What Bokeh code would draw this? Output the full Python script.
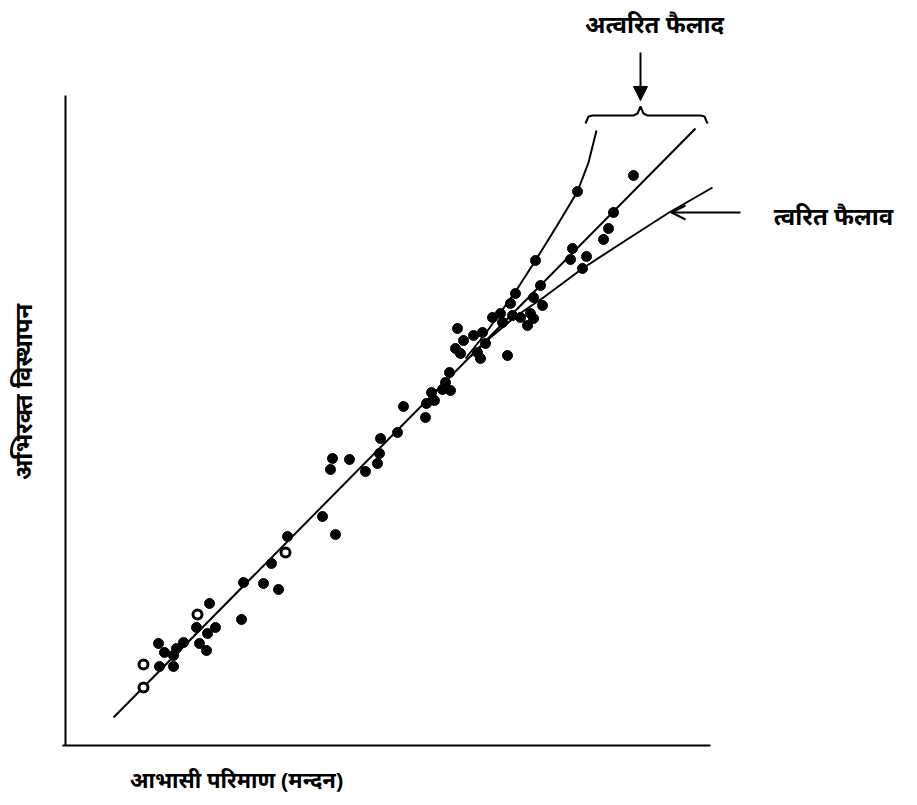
from math import pi
from bokeh.plotting import figure
from bokeh.models import Range1d, Label, Arrow, NormalHead, OpenHead, LinearAxis
from bokeh.embed import file_html
from bokeh.resources import INLINE

# ---- data (arbitrary units: apparent magnitude vs redshift) ----
mag_dots = [93, 94, 99, 108, 108, 111, 118, 131, 134, 141, 142, 144, 150, 176, 178, 198,
            213, 206, 222, 257, 270, 267, 265, 284, 300, 312, 314, 315, 332, 338, 360, 361,
            366, 369, 377, 385, 380, 384, 390, 392, 395, 398, 408, 412, 415, 417, 420, 427,
            435, 437, 442, 445, 447, 455, 462, 465, 468, 477, 475, 468, 450, 470, 512, 568,
            548, 543, 538, 507, 505, 521, 517]
red_dots = [102, 79, 93, 79, 90, 97, 103, 118, 102, 95, 112, 142, 118, 126, 163, 162,
            156, 182, 209, 229, 211, 287, 276, 286, 274, 282, 292, 307, 313, 339, 328, 342,
            353, 345, 356, 355, 363, 373, 397, 417, 392, 405, 410, 393, 387, 413, 402, 428,
            432, 423, 390, 442, 430, 428, 420, 432, 427, 440, 460, 448, 452, 485, 554, 570,
            533, 517, 506, 497, 486, 489, 477]
mag_rings = [78, 78, 132, 220]
red_rings = [58, 81, 131, 193]

# fitted relations
main_mag = [48, 630]
main_red = [28, 617]
decel_mag = [400, 420, 435, 452, 470, 491, 512, 523, 531]
decel_red = [387, 412, 433, 457, 485, 519, 554, 583, 615]
accel_mag = [405, 425, 450, 478, 517, 560, 602, 647]
accel_red = [389, 408, 429, 448, 477, 505, 532, 558]

# brace outline over the upper ends of the curves
brace_x = [520, 523, 527, 568, 572, 575, 578, 582, 635, 639, 642]
brace_y = [622, 629, 630, 630, 632, 639, 632, 630, 630, 629, 622]

FONT = "Noto Sans"

p = figure(width=909, height=797, output_backend="svg", toolbar_location=None,
           x_range=Range1d(-65, 844), y_range=Range1d(-52, 745),
           x_axis_type=None, y_axis_type=None,
           min_border=0)
p.background_fill_color = "white"
p.border_fill_color = "white"
p.outline_line_color = None
p.grid.visible = False

xaxis = LinearAxis(fixed_location=0, bounds=(-3, 645))
yaxis = LinearAxis(fixed_location=0, bounds=(0, 650))
for ax in (xaxis, yaxis):
    ax.ticker = []
    ax.axis_line_width = 2
    ax.axis_line_color = "black"
    ax.major_tick_out = 0
    ax.major_tick_in = 0
    ax.minor_tick_out = 0
    ax.minor_tick_in = 0
    ax.major_label_standoff = 0
    ax.major_label_text_font_size = "0px"
p.add_layout(xaxis, "below")
p.add_layout(yaxis, "left")

p.line(main_mag, main_red, line_color="black", line_width=2)
p.line(decel_mag, decel_red, line_color="black", line_width=2)
p.line(accel_mag, accel_red, line_color="black", line_width=2)
p.line(brace_x, brace_y, line_color="black", line_width=2)

p.scatter(mag_dots, red_dots, size=10, marker="circle", fill_color="black", line_color="black")
p.scatter(mag_rings, red_rings, size=9, marker="circle", fill_color="white", line_color="black",
          line_width=3)

# arrows
p.add_layout(Arrow(end=NormalHead(size=14, fill_color="black", line_color="black"),
                   x_start=575, y_start=693, x_end=575, y_end=645,
                   line_width=2, line_color="black"))
p.add_layout(Arrow(end=OpenHead(size=14, line_width=2, line_color="black"),
                   x_start=675, y_start=533, x_end=606, y_end=533,
                   line_width=2, line_color="black"))

# texts
common = dict(text_font=FONT, text_font_style="bold", text_color="black",
              text_align="center", text_baseline="middle")
p.add_layout(Label(x=589, y=722, text="अत्वरित फैलाद", text_font_size="24px", **common))
p.add_layout(Label(x=768, y=530, text="त्वरित फैलाव", text_font_size="24px", **common))
p.add_layout(Label(x=171, y=-33, text="आभासी परिमाण (मन्दन)", text_font_size="22px", **common))
p.add_layout(Label(x=-43, y=363, text="अभिरक्त    विस्थापन", angle=pi / 2,
                   text_font_size="24px", **common))

open("out.html", "w").write(file_html(p, INLINE))
